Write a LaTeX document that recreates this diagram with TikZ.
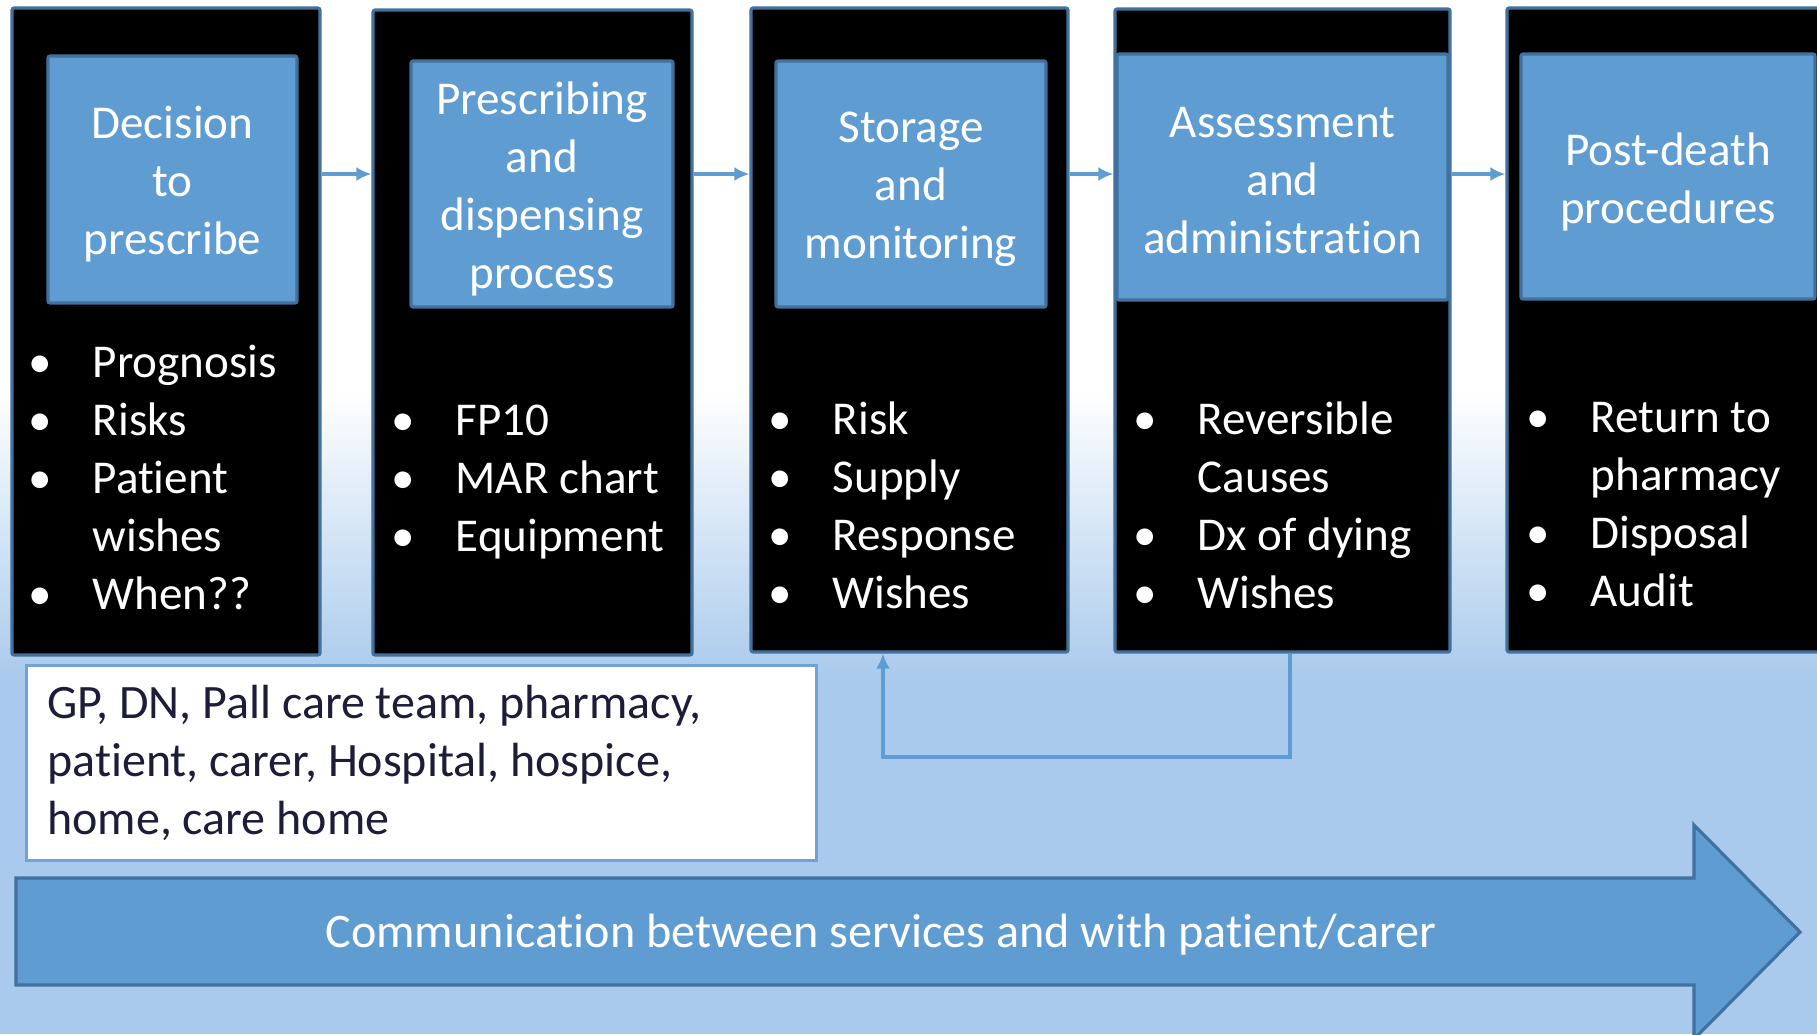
\documentclass[tikz,border=0pt]{standalone}
\usepackage{fontspec}
\setmainfont[Ligatures=NoCommon]{Carlito}
\frenchspacing
\usetikzlibrary{positioning,arrows.meta}
\definecolor{accblue}{HTML}{5F9CD2}
\definecolor{edgeblue}{HTML}{41719C}
\definecolor{bgblue}{HTML}{A9CAEC}
\definecolor{gpline}{HTML}{6FA3D6}
\definecolor{gptext}{HTML}{1D1D3A}
\newcommand{\itm}[1]{\makebox[5.3mm][l]{\hspace*{-1.1mm}•}#1}
\newcommand{\cnt}[1]{\hspace*{5.3mm}#1}
\tikzset{
    stage/.style={draw=edgeblue,line width=0.9pt,fill=black,rounded corners=0.6pt},
    head/.style={draw=edgeblue,line width=0.9pt,fill=accblue,rounded corners=0.6pt},
    headtext/.style={text=white,align=center},
    items/.style={text=white,align=left,inner sep=0pt,anchor=west},
    stepline/.style={-{Latex[length=1.5mm,width=1.4mm]},accblue,line width=1.2pt},
}
\begin{document}
\begin{tikzpicture}[x=0.1mm,y=-0.1mm,every node/.style={font=\fontsize{13.4}{16.5}\selectfont}]
                \useasboundingbox (0,0) rectangle (1817,1034);
                %% background
                \fill[white] (0,0) rectangle (1817,1034);
                \shade[top color=white,bottom color=bgblue] (0,390) rectangle (1817,680);
                \fill[bgblue] (0,679) rectangle (1817,1034);
                %% stages
                \node[stage,minimum width=30.8mm,minimum height=64.7mm] (s1) at (166,331.5) {};
                \node[stage,minimum width=31.9mm,minimum height=64.5mm] (s2) at (532.5,332.5) {};
                \node[stage,minimum width=31.7mm,minimum height=64.4mm] (s3) at (909.5,330) {};
                \node[stage,minimum width=33.5mm,minimum height=64.3mm] (s4) at (1282.5,330.5) {};
                \node[stage,minimum width=33.3mm,minimum height=64.4mm] (s5) at (1673.5,330) {};
                %% headings
                \node[head,minimum width=24.9mm,minimum height=24.7mm] (h1) at (172.5,179.5) {};
                \node[head,minimum width=26.2mm,minimum height=24.6mm] (h2) at (542,184) {};
                \node[head,minimum width=27mm,minimum height=24.6mm] (h3) at (911,184) {};
                \node[head,minimum width=33.1mm,minimum height=24.6mm] (h4) at (1282.5,177) {};
                \node[head,minimum width=29.4mm,minimum height=24.5mm] (h5) at (1668,176.5) {};
                \node[headtext] (t1) at ([yshift=-0.5mm]h1.center) {Decision\\to\\prescribe};
                \node[headtext] (t2) at ([yshift=-0.5mm]h2.center) {Prescribing\\and\\dispensing\\process};
                \node[headtext] (t3) at ([yshift=-0.5mm]h3.center) {Storage\\and\\monitoring};
                \node[headtext] (t4) at ([yshift=-0.4mm]h4.center) {Assessment\\and\\administration};
                \node[headtext] (t5) at ([yshift=-0.5mm]h5.center) {Post-death\\procedures};
                %% bullet lists
                \node[items] (l1) at (39,477) {\itm{Prognosis}\\\itm{Risks}\\\itm{Patient}\\\cnt{wishes}\\\itm{When??}};
                \node[items] (l2) at (402,482) {\itm{FP10}\\\itm{MAR chart}\\\itm{Equipment}};
                \node[items] (l3) at (779,505) {\itm{Risk}\\\itm{Supply}\\\itm{Response}\\\itm{Wishes}};
                \node[items] (l4) at (1144,505) {\itm{Reversible}\\\cnt{Causes}\\\itm{Dx of dying}\\\itm{Wishes}};
                \node[items] (l5) at (1537,505) {\itm{Return to}\\\cnt{pharmacy}\\\itm{Disposal}\\\itm{Audit}};
                %% flow arrows
                \foreach \a/\b in {s1/s2,s2/s3,s3/s4,s4/s5} {
                    \draw[stepline] (\a.east |- 0,174) -- (\b.west |- 0,174);
                }
                %% back to storage
                \coordinate (fb) at (883,757);
                \draw[stepline] ([xshift=0.75mm]s4.south) |- (fb) -- (fb |- s3.south);
                %% who is involved
                \node[draw=gpline,line width=0.8pt,fill=white,text=gptext,anchor=north west,
                      font=\fontsize{13.65}{16.5}\selectfont,
                      text width=74.8mm,minimum height=19.5mm,inner xsep=2.1mm,align=flush left] (gp) at (25,664)
                      {GP, DN, Pall care team, pharmacy,\\patient, carer, Hospital, hospice,\\home, care home};
                %% communication arrow
                \draw[edgeblue,line width=0.9pt,fill=accblue] (16,878) -- (1694,878) -- (1694,825)
                      -- (1800,932) -- (1694,1039) -- (1694,985) -- (16,985) -- cycle;
                \node[text=white,font=\fontsize{13.7}{16.5}\selectfont] (comm) at (881,935) {Communication between services and with patient/carer};
\end{tikzpicture}
\end{document}
